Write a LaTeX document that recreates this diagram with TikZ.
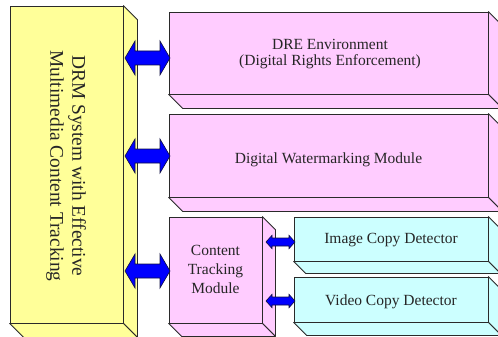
\documentclass[tikz,border=0pt]{standalone}
\usepackage{fontspec}
\setmainfont{Liberation Serif}
\usetikzlibrary{calc}
\definecolor{yel}{HTML}{FFFF99}
\definecolor{pnk}{HTML}{FFCCFF}
\definecolor{cyn}{HTML}{CCFFFF}
\definecolor{edge}{HTML}{2A2A2A}
\definecolor{arrowedge}{HTML}{101040}
\tikzset{
  face/.style={draw=edge, line width=0.8pt, line join=round},
  front/.style={face, rectangle, inner sep=0pt},
  lbl/.style={font=\fontsize{15.5}{17}\selectfont, align=center, inner sep=0pt, text=black!85},
  bluearrow/.style={fill=blue, draw=arrowedge, line width=0.6pt, line join=miter},
}
\newcommand{\sidefaces}[3]{%
  \filldraw[face, fill=#3] (#1.north east) -- ++(#2,#2) -- ($(#1.south east)+(#2,#2)$) -- (#1.south east) -- cycle;
  \filldraw[face, fill=#3] (#1.south west) -- (#1.south east) -- ++(#2,#2) -- ($(#1.south west)+(#2,#2)$) -- cycle;
}
\newcommand{\dblarrow}[5]{%
  \filldraw[bluearrow] (#1) -- ++(#3,-#4) -- ++(0,#4-#5) -- ($(#2)+(-#3,-#5)$) -- ++(0,#5-#4)
    -- (#2) -- ++(-#3,#4) -- ++(0,#5-#4) -- ($(#1)+(#3,#5)$) -- ++(0,#4-#5) -- cycle;
}
\begin{document}
\begin{tikzpicture}[x=1pt,y=-1pt]
\useasboundingbox (0,0) rectangle (498,337);
\clip (0,0) rectangle (498,337);

% yellow system box
\node[front, fill=yel, minimum width=113pt, minimum height=317pt] (yel) at (66.5,164.5) {};
\sidefaces{yel}{14}{yel}
\node[font=\fontsize{19.4}{22}\selectfont, align=center, rotate=-90, inner sep=0pt, text=black!85] (ylab) at (66,166)
  {DRM System with Effective\\Multimedia Content Tracking};

% pink boxes
\node[front, fill=pnk, minimum width=319pt, minimum height=82pt] (dre) at (328.5,53) {};
\sidefaces{dre}{14}{pnk}
\node[lbl, font=\fontsize{15.5}{16.5}\selectfont] (drel) at (330,54) {DRE Environment\\(Digital Rights Enforcement)};

\node[front, fill=pnk, minimum width=319pt, minimum height=83pt] (wm) at (328.5,155.5) {};
\sidefaces{wm}{14}{pnk}
\node[lbl, anchor=base] (wml) at (328.5,163) {Digital Watermarking Module};

\node[front, fill=pnk, minimum width=93pt, minimum height=106pt] (ct) at (215.5,270) {};
\sidefaces{ct}{13}{pnk}
\node[lbl, font=\fontsize{15.5}{19}\selectfont] (ctl) at (215.5,269.5) {Content\\Tracking\\Module};

% cyan boxes
\node[front, fill=cyn, minimum width=194pt, minimum height=44pt] (icd) at (391,239) {};
\sidefaces{icd}{12}{cyn}
\node[lbl, anchor=base] (icdl) at (391,243) {Image Copy Detector};

\node[front, fill=cyn, minimum width=194pt, minimum height=45pt] (vcd) at (391,299.5) {};
\sidefaces{vcd}{13}{cyn}
\node[lbl, anchor=base] (vcdl) at (391,305) {Video Copy Detector};

% big arrows
\coordinate (a1l) at (125,58);  \coordinate (a1r) at (170,58);
\coordinate (a2l) at (125,156); \coordinate (a2r) at (170,156);
\coordinate (a3l) at (125,271); \coordinate (a3r) at (170,271);
\dblarrow{a1l}{a1r}{10}{17}{7}
\dblarrow{a2l}{a2r}{10}{17}{7}
\dblarrow{a3l}{a3r}{10}{17}{7}

% small arrows
\coordinate (b1l) at (266,242); \coordinate (b1r) at (295,242);
\coordinate (b2l) at (266,301); \coordinate (b2r) at (295,301);
\dblarrow{b1l}{b1r}{6}{6.7}{4}
\dblarrow{b2l}{b2r}{6}{6.7}{4}
\end{tikzpicture}
\end{document}
